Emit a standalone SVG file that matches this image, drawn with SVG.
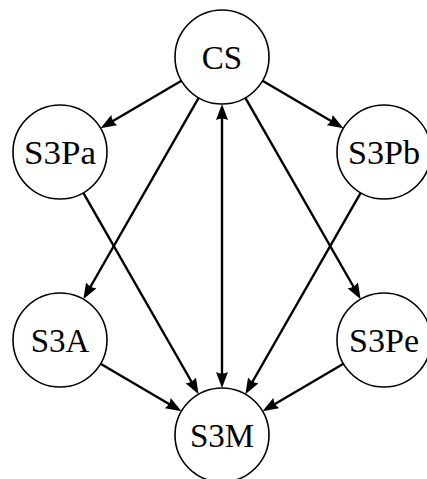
<svg xmlns="http://www.w3.org/2000/svg" width="427" height="479" viewBox="0 0 427 479">
<style>
.node circle{fill:#fff;stroke:#000;stroke-width:1.6}
.node text{font-family:"Liberation Serif","Times New Roman",serif;font-size:33px;fill:#000;text-anchor:middle}
.edges line{stroke:#000;stroke-width:2.4;fill:none}
</style>
<defs>
<marker id="arr" markerUnits="userSpaceOnUse" markerWidth="16" markerHeight="12" viewBox="0 0 16 12" refX="10" refY="6" orient="auto-start-reverse">
<path d="M0,0 L16,6 L0,12 Q3,6 0,0 z" fill="#000"/>
</marker>
</defs>
<rect width="427" height="479" fill="#fff"/>
<g class="edges">
<line x1="181.46" y1="80.78" x2="105.72" y2="125.18" marker-end="url(#arr)"/>
<line x1="262.54" y1="80.78" x2="338.28" y2="125.18" marker-end="url(#arr)"/>
<line x1="198.65" y1="97.79" x2="86.33" y2="294.0" marker-end="url(#arr)"/>
<line x1="245.35" y1="97.79" x2="357.67" y2="294.0" marker-end="url(#arr)"/>
<line x1="222" y1="110" x2="222" y2="382" marker-start="url(#arr)" marker-end="url(#arr)"/>
<line x1="83.35" y1="192.79" x2="195.67" y2="389.0" marker-end="url(#arr)"/>
<line x1="360.65" y1="192.79" x2="248.33" y2="389.0" marker-end="url(#arr)"/>
<line x1="100.54" y1="363.78" x2="176.28" y2="408.18" marker-end="url(#arr)"/>
<line x1="343.46" y1="363.78" x2="267.72" y2="408.18" marker-end="url(#arr)"/>
</g>
<g id="CS" class="node"><circle cx="222" cy="57" r="47"/><text x="222" y="69">CS</text></g>
<g id="S3Pa" class="node"><circle cx="60" cy="152" r="47"/><text x="60" y="164" textLength="72" lengthAdjust="spacingAndGlyphs">S3Pa</text></g>
<g id="S3Pb" class="node"><circle cx="384" cy="152" r="47"/><text x="384" y="164" textLength="72" lengthAdjust="spacingAndGlyphs">S3Pb</text></g>
<g id="S3A" class="node"><circle cx="60" cy="340" r="47"/><text x="60" y="352">S3A</text></g>
<g id="S3Pe" class="node"><circle cx="384" cy="340" r="47"/><text x="384" y="352" textLength="70" lengthAdjust="spacingAndGlyphs">S3Pe</text></g>
<g id="S3M" class="node"><circle cx="222" cy="435" r="47"/><text x="222" y="447">S3M</text></g>
</svg>
